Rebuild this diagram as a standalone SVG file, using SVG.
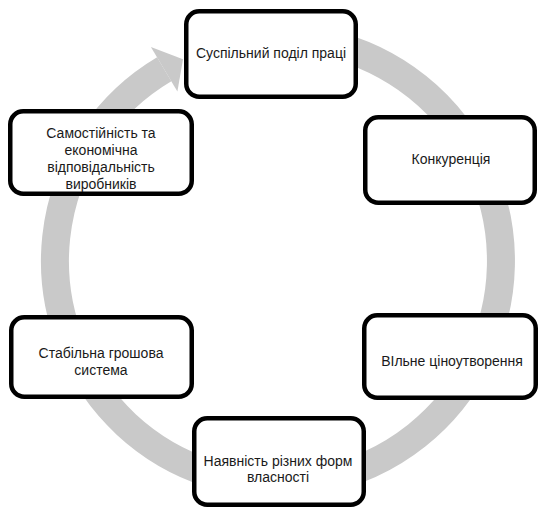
<svg xmlns="http://www.w3.org/2000/svg" width="541" height="508" viewBox="0 0 541 508">
<style>
.box{fill:#fff;stroke:#000;stroke-width:4.5}
.t{font-family:"Liberation Sans",Arial,sans-serif;font-size:14px;fill:#1a1a1a;text-anchor:middle}
.ring{fill:none;stroke:#c9c9c9;stroke-width:28}
</style>
<rect width="541" height="508" fill="#fff"/>
<g id="connectors">
<path class="ring" d="M316.7,41.4 A223,223 0 1 1 164.2,69.2"/>
<polygon fill="#c9c9c9" points="150.9,46.9 183,59.2 177.4,91.6"/>
</g>
<g id="n1">
<rect class="box" x="186.25" y="11.25" width="169.5" height="85.5" rx="13"/>
<text class="t" x="271" y="58">Суспільний поділ праці</text>
</g>
<g id="n2">
<rect class="box" x="365.25" y="117.25" width="169.5" height="85.5" rx="13"/>
<text class="t" x="451" y="164">Конкуренція</text>
</g>
<g id="n3">
<rect class="box" x="364.25" y="315.25" width="171.5" height="82.5" rx="13"/>
<text class="t" x="452" y="366">ВIльне ціноутворення</text>
</g>
<g id="n4">
<rect class="box" x="194.25" y="418.25" width="169.5" height="86.5" rx="13"/>
<text class="t" x="278" y="466">Наявність різних форм</text>
<text class="t" x="278" y="482">власності</text>
</g>
<g id="n5">
<rect class="box" x="11.25" y="317.25" width="180.5" height="79.5" rx="13"/>
<text class="t" x="101" y="358">Стабільна грошова</text>
<text class="t" x="101" y="374.5">система</text>
</g>
<g id="n6">
<rect class="box" x="10.25" y="111.25" width="181.5" height="82.5" rx="13"/>
<text class="t" x="101" y="137.5">Самостійність та</text>
<text class="t" x="101" y="154.5">економічна</text>
<text class="t" x="101" y="171.5">відповідальність</text>
<text class="t" x="101" y="188.5">виробників</text>
</g>
</svg>
